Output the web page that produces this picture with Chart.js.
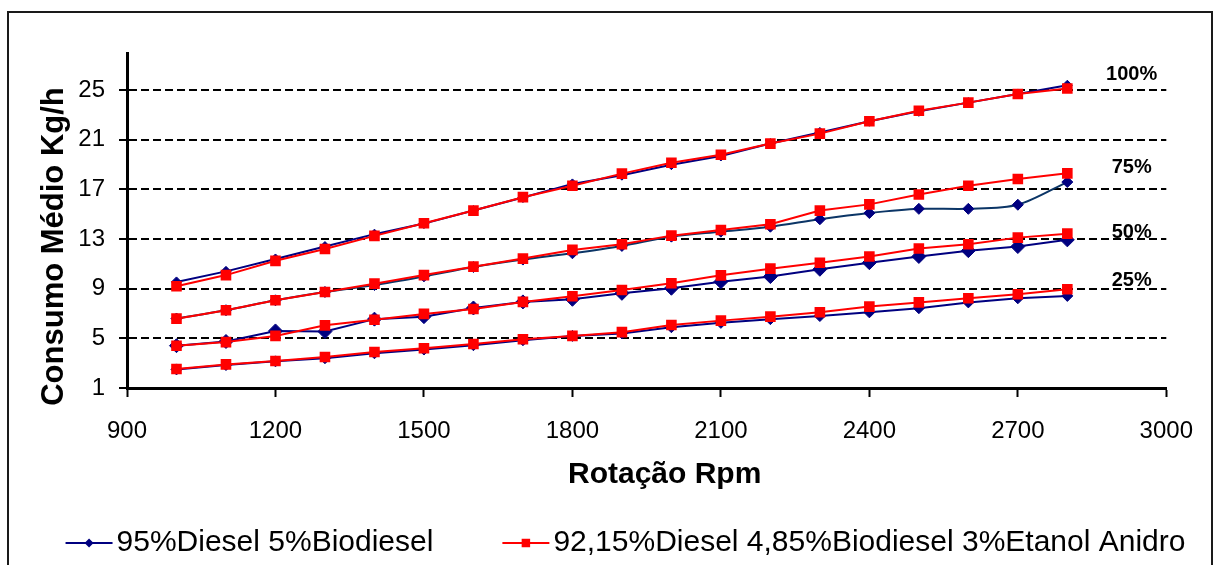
<!DOCTYPE html>
<html>
<head>
<meta charset="utf-8">
<script src="https://cdn.jsdelivr.net/npm/chart.js@4.4.1/dist/chart.umd.min.js"></script>
<style>
  html, body { margin: 0; padding: 0; background: #fff; overflow: hidden; }
  #wrap { position: relative; width: 1213px; height: 565px; }
  #wrap canvas { position: absolute; left: 0; top: 0; }
  #frame { position: absolute; left: 7px; top: 11px; width: 1202px; height: 600px;
           border: 2px solid #1a1a1a; pointer-events: none; }
</style>
</head>
<body>
<div id="wrap">
  <canvas id="c" width="1213" height="565"></canvas>
  <div id="frame"></div>
</div>
<script>
// Engine speed (rpm)
const rpm = [1000, 1100, 1200, 1300, 1400, 1500, 1600, 1700, 1800, 1900,
             2000, 2100, 2200, 2300, 2400, 2500, 2600, 2700, 2800];

// Mean consumption (kg/h), 95% diesel + 5% biodiesel, per load level
const diesel100 = [9.55, 10.4, 11.4, 12.4, 13.4, 14.25, 15.3, 16.35, 17.45, 18.15,
                   19.0, 19.7, 20.7, 21.6, 22.5, 23.3, 24.0, 24.7, 25.4];
const diesel75  = [6.6, 7.27, 8.07, 8.74, 9.3, 10.0, 10.75, 11.35, 11.86, 12.45,
                   13.2, 13.6, 14.0, 14.6, 15.1, 15.44, 15.44, 15.77, 17.6];
const diesel50  = [4.41, 4.75, 5.6, 5.55, 6.55, 6.75, 7.45, 7.94, 8.15, 8.63,
                   9.04, 9.57, 9.98, 10.57, 11.1, 11.6, 12.07, 12.4, 12.94];
const diesel25  = [2.5, 2.85, 3.15, 3.4, 3.8, 4.1, 4.45, 4.85, 5.2, 5.4,
                   5.9, 6.25, 6.55, 6.8, 7.1, 7.43, 7.9, 8.23, 8.42];

// Mean consumption (kg/h), 92.15% diesel + 4.85% biodiesel + 3% anhydrous ethanol
const etanol100 = [9.2, 10.1, 11.25, 12.2, 13.26, 14.28, 15.3, 16.38, 17.3, 18.28,
                   19.15, 19.8, 20.7, 21.5, 22.5, 23.34, 24.0, 24.7, 25.14];
const etanol75  = [6.59, 7.27, 8.07, 8.74, 9.41, 10.1, 10.78, 11.43, 12.13, 12.59,
                   13.28, 13.74, 14.2, 15.3, 15.8, 16.6, 17.3, 17.85, 18.3];
const etanol50  = [4.4, 4.7, 5.2, 6.05, 6.5, 6.97, 7.37, 7.94, 8.4, 8.9,
                   9.44, 10.08, 10.62, 11.1, 11.6, 12.24, 12.59, 13.12, 13.44];
const etanol25  = [2.53, 2.9, 3.18, 3.5, 3.9, 4.2, 4.55, 4.93, 5.2, 5.5,
                   6.08, 6.43, 6.75, 7.1, 7.56, 7.9, 8.23, 8.56, 8.96];

const seriesNames = ['95%Diesel 5%Biodiesel', '92,15%Diesel 4,85%Biodiesel 3%Etanol Anidro'];

// Load level captions and where they sit (rpm, kg/h)
const loadLabels = ['100%', '75%', '50%', '25%'];
const loadLabelY = [26.3, 18.8, 13.5, 9.7];
const loadLabelX = 2930;

// Axis settings
const xTicks = [900, 1200, 1500, 1800, 2100, 2400, 2700, 3000];
const yTicks = [1, 5, 9, 13, 17, 21, 25];
const xTitle = 'Rotação Rpm';
const yTitle = 'Consumo Médio Kg/h';

const FONT = "'Liberation Sans', Arial, sans-serif";
Chart.defaults.font.family = FONT;
Chart.defaults.color = '#000';

const BLUE = '#000080';
const RED = '#ff0000';

const pts = arr => arr.map((v, i) => ({ x: rpm[i], y: v }));

function blueSet(data, radius, lineColor, tension) {
  return {
    label: seriesNames[0], data: pts(data), order: 1,
    borderColor: lineColor || BLUE, backgroundColor: BLUE,
    pointBorderColor: BLUE, pointBackgroundColor: BLUE,
    borderWidth: 2, pointStyle: 'rectRot', pointRadius: radius, pointBorderWidth: 1,
    tension: tension || 0
  };
}
function redSet(data) {
  return {
    label: seriesNames[1], data: pts(data), order: 0,
    borderColor: RED, backgroundColor: RED,
    pointBorderColor: RED, pointBackgroundColor: RED,
    borderWidth: 2, pointStyle: 'rect', pointRadius: 7.5, pointBorderWidth: 0,
    tension: 0
  };
}

// Axis titles, legend and load captions
const decorations = {
  id: 'decorations',
  afterDraw(chart) {
    const { ctx, chartArea: a, scales: { x, y } } = chart;
    ctx.save();
    ctx.fillStyle = '#000';
    ctx.textBaseline = 'middle';

    // axis titles
    ctx.font = 'bold 30px ' + FONT;
    ctx.textAlign = 'center';
    ctx.fillText(xTitle, (a.left + a.right) / 2 + 18, a.bottom + 87);
    ctx.save();
    ctx.translate(a.left - 73, (a.top + a.bottom) / 2 + 26);
    ctx.rotate(-Math.PI / 2);
    ctx.font = 'bold 31px ' + FONT;
    ctx.fillText(yTitle, 0, 0);
    ctx.restore();

    // load captions
    ctx.font = 'bold 20px ' + FONT;
    loadLabels.forEach((t, i) => {
      ctx.fillText(t, x.getPixelForValue(loadLabelX), y.getPixelForValue(loadLabelY[i]));
    });

    // legend
    ctx.font = '30px ' + FONT;
    ctx.textAlign = 'left';
    const marker = 47, textGap = 4, itemGap = 69;
    const w0 = ctx.measureText(seriesNames[0]).width;
    const w1 = ctx.measureText(seriesNames[1]).width;
    const total = marker + textGap + w0 + itemGap + marker + textGap + w1;
    const ly = 543;
    let lx = 625.5 - total / 2;
    const items = [
      { name: seriesNames[0], color: BLUE, style: 'rectRot', r: 4.5, w: w0 },
      { name: seriesNames[1], color: RED, style: 'rect', r: 6, w: w1 }
    ];
    items.forEach(it => {
      ctx.strokeStyle = it.color;
      ctx.lineWidth = 2;
      ctx.beginPath();
      ctx.moveTo(lx, ly);
      ctx.lineTo(lx + marker, ly);
      ctx.stroke();
      ctx.fillStyle = it.color;
      Chart.helpers.drawPoint(ctx, { pointStyle: it.style, radius: it.r, borderWidth: 0, rotation: 0 }, lx + marker / 2, ly);
      ctx.fillStyle = '#000';
      ctx.fillText(it.name, lx + marker + textGap, ly);
      lx += marker + textGap + it.w + itemGap;
    });
    ctx.restore();
  }
};

new Chart(document.getElementById('c'), {
  type: 'line',
  data: {
    datasets: [
      blueSet(diesel100, 5),
      blueSet(diesel75, 5.5, '#0b3566', 0.3),
      blueSet(diesel50, 7),
      blueSet(diesel25, 5.5),
      redSet(etanol100),
      redSet(etanol75),
      redSet(etanol50),
      redSet(etanol25)
    ]
  },
  options: {
    responsive: false,
    animation: false,
    events: [],
    layout: { padding: { left: 0, right: 39, top: 53, bottom: 0 } },
    plugins: { legend: { display: false }, tooltip: { enabled: false } },
    scales: {
      x: {
        type: 'linear', min: 900, max: 3000,
        afterFit: s => { s.height = 177; },
        afterBuildTicks: s => { s.ticks = xTicks.map(v => ({ value: v })); },
        ticks: { font: { size: 24 }, padding: 20, maxRotation: 0, callback: v => String(v) },
        grid: { drawOnChartArea: false, drawTicks: true, tickLength: 9, tickWidth: 2, tickColor: '#000' },
        border: { color: '#000', width: 3 }
      },
      y: {
        type: 'linear', min: 1, max: 28,
        afterFit: s => { s.width = 127; },
        afterBuildTicks: s => { s.ticks = yTicks.map(v => ({ value: v })); },
        ticks: { font: { size: 24 }, padding: 14, callback: v => String(v) },
        grid: {
          color: c => (c.tick && c.tick.value === 1 ? 'rgba(0,0,0,0)' : '#000'),
          lineWidth: 2,
          tickLength: 8, tickWidth: 2, tickColor: '#000', tickBorderDash: [8, 4]
        },
        border: { color: '#000', width: 3, dash: [8, 4] }
      }
    }
  },
  plugins: [decorations]
});
</script>
</body>
</html>
